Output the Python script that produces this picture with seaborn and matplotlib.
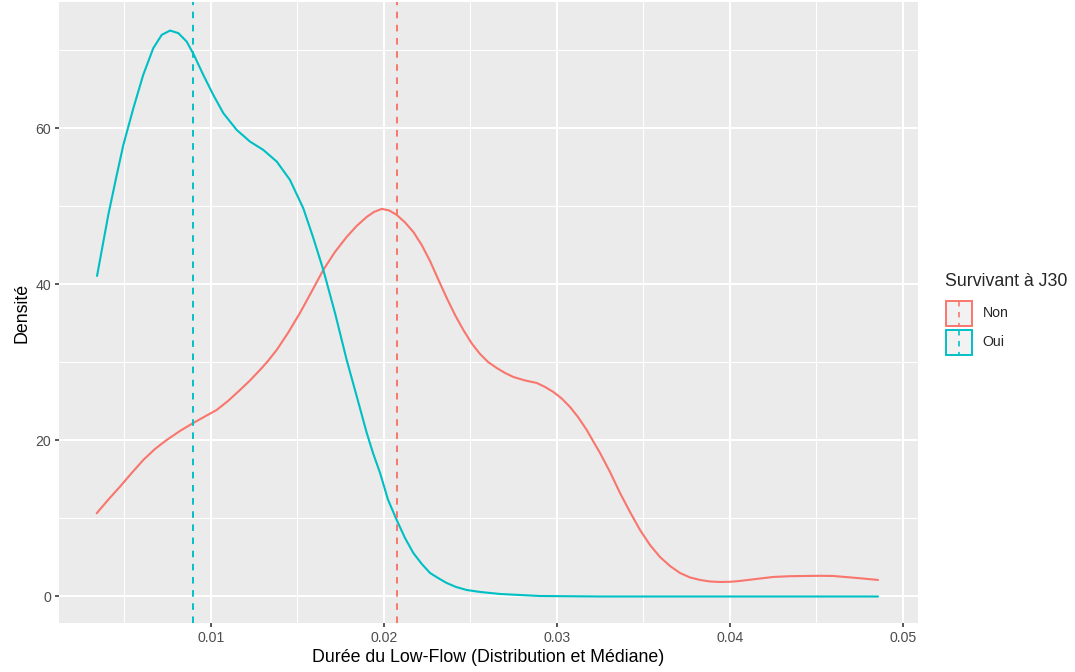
import matplotlib
matplotlib.use("Agg")
import matplotlib.pyplot as plt
import seaborn as sns
import pandas as pd
from matplotlib.legend_handler import HandlerBase
from matplotlib.patches import Rectangle
from matplotlib.lines import Line2D
from matplotlib.ticker import FixedLocator

# ---------------- data ----------------
groups = ["Non", "Oui"]
colors = ["#F8766D", "#00BFC4"]
medians = [0.02075, 0.00898]

x_non = [0.003410, 0.004064, 0.004757, 0.005434, 0.006104, 0.006780, 0.007457, 0.008225,
         0.008994, 0.009671, 0.010347, 0.011000, 0.011694, 0.012272, 0.012850, 0.013312,
         0.013815, 0.014468, 0.015162, 0.015838, 0.016509, 0.017185, 0.017861, 0.018439,
         0.019017, 0.019439, 0.019884, 0.020306, 0.020751, 0.021231, 0.021711, 0.022197,
         0.022676, 0.023139, 0.023642, 0.024121, 0.024601, 0.025087, 0.025566, 0.026029,
         0.026532, 0.027012, 0.027491, 0.028168, 0.028844, 0.029324, 0.029803, 0.030289,
         0.030769, 0.031231, 0.031734, 0.032098, 0.032503, 0.033081, 0.033659, 0.034237,
         0.034815, 0.035393, 0.035971, 0.036549, 0.037127, 0.037705, 0.038283, 0.038861,
         0.039439, 0.040017, 0.040595, 0.041520, 0.042503, 0.043486, 0.044468, 0.045220,
         0.045971, 0.046665, 0.047358, 0.047994, 0.048572]
y_non = [10.67, 12.37, 14.08, 15.83, 17.50, 18.91, 20.06, 21.22,
         22.24, 23.08, 23.91, 25.06, 26.47, 27.69, 29.04, 30.19,
         31.60, 33.78, 36.35, 39.10, 41.86, 44.17, 46.09, 47.50,
         48.65, 49.29, 49.68, 49.49, 48.91, 47.95, 46.73, 45.06,
         43.01, 40.71, 38.27, 36.09, 34.17, 32.44, 31.09, 30.06,
         29.29, 28.65, 28.14, 27.69, 27.37, 26.86, 26.22, 25.38,
         24.29, 23.01, 21.35, 19.94, 18.40, 15.96, 13.27, 10.83,
         8.53, 6.60, 5.06, 3.91, 3.01, 2.44, 2.12, 1.92,
         1.86, 1.88, 1.99, 2.24, 2.50, 2.60, 2.63, 2.65,
         2.63, 2.50, 2.37, 2.24, 2.12]

x_oui = [0.00343, 0.00408, 0.00457, 0.00495, 0.00553, 0.00610, 0.00668, 0.00717,
         0.00765, 0.00813, 0.00861, 0.00903, 0.00957, 0.01015, 0.01073, 0.01150,
         0.01227, 0.01304, 0.01382, 0.01458, 0.01535, 0.01591, 0.01651, 0.01719,
         0.01786, 0.01846, 0.01902, 0.01938, 0.01979, 0.02025, 0.02075, 0.02123,
         0.02171, 0.02220, 0.02268, 0.02314, 0.02364, 0.02418, 0.02480, 0.02557,
         0.02672, 0.02903, 0.03250, 0.03828, 0.04406, 0.04857]
y_oui = [41.09, 48.91, 54.04, 57.88, 62.59, 66.86, 70.28, 71.99,
         72.54, 72.21, 71.13, 69.42, 66.86, 64.29, 61.95, 59.81,
         58.31, 57.24, 55.74, 53.40, 49.77, 46.10, 41.86, 36.30,
         30.32, 25.50, 20.96, 18.40, 15.83, 12.40, 9.81, 7.50,
         5.58, 4.17, 3.01, 2.37, 1.73, 1.22, 0.83, 0.58,
         0.32, 0.06, 0.0, 0.0, 0.0, 0.0]

x_ticks = [0.01, 0.02, 0.03, 0.04, 0.05]
x_tick_labels = ["0.01", "0.02", "0.03", "0.04", "0.05"]
x_minor = [0.005, 0.015, 0.025, 0.035, 0.045]
y_ticks = [0, 20, 40, 60]
y_tick_labels = ["0", "20", "40", "60"]
y_minor = [10, 30, 50, 70]

x_title = "Durée du Low-Flow (Distribution et Médiane)"
y_title = "Densité"
legend_title = "Survivant à J30"

# ---------------- style ----------------
DPI = 116
W, H = 1075, 672
sns.set_theme(style="darkgrid", rc={
    "axes.facecolor": "#EBEBEB",
    "figure.facecolor": "white",
    "grid.color": "white",
})
plt.rcParams["font.family"] = ["Liberation Sans", "DejaVu Sans"]

fig = plt.figure(figsize=(W / DPI, H / DPI), dpi=DPI)
ax = fig.add_axes([59 / W, 1 - 623 / H, (918 - 59) / W, (623 - 2) / H])

frames = []
for g, xs, ys in [("Non", x_non, y_non), ("Oui", x_oui, y_oui)]:
    frames.append(pd.DataFrame({"x": xs, "y": ys, "g": g}))
df = pd.concat(frames, ignore_index=True)

palette = dict(zip(groups, colors))
sns.lineplot(data=df, x="x", y="y", hue="g", hue_order=groups, palette=palette,
             estimator=None, sort=True, linewidth=1.3, legend=False, ax=ax)
for ln in ax.lines:
    ln.set_solid_joinstyle("round")

dash = (0, (3.4, 3.4))
for m, c in zip(medians, colors):
    ax.axvline(m, color=c, linestyle=dash, linewidth=1.2)

ax.set_xlim(0.001231, 0.050885)
ax.set_ylim(-3.4, 76.2)
ax.set_xticks(x_ticks, x_tick_labels)
ax.set_yticks(y_ticks, y_tick_labels)
ax.xaxis.set_minor_locator(FixedLocator(x_minor))
ax.yaxis.set_minor_locator(FixedLocator(y_minor))
ax.set_axisbelow(True)
ax.grid(which="major", color="white", linewidth=1.3)
ax.grid(which="minor", color="white", linewidth=0.65)
ax.tick_params(which="minor", length=0)
ax.tick_params(which="major", length=2.75, width=1.0, color="#333333",
               labelcolor="#4D4D4D", labelsize=8.8, pad=2.2,
               bottom=True, left=True)
for s in ax.spines.values():
    s.set_visible(False)

ax.set_xlabel(x_title, fontsize=11, color="black", labelpad=2.75)
ax.set_ylabel(y_title, fontsize=11, color="black", labelpad=2.75)


class KeyHandler(HandlerBase):
    def create_artists(self, legend, orig_handle, xdescent, ydescent,
                       width, height, fontsize, trans):
        c = orig_handle.get_color()
        x0, y0 = -xdescent, -ydescent
        rect = Rectangle((x0 + 0.6, y0 + 0.6), width - 1.2, height - 1.2,
                         facecolor="#F2F2F2", edgecolor=c, linewidth=1.2,
                         transform=trans)
        ln = Line2D([x0 + width / 2] * 2, [y0 + height - 1, y0 + 1],
                    color=c, linestyle=dash, linewidth=1.0, transform=trans)
        return [rect, ln]


handles = [Line2D([], [], color=c) for c in colors]
leg = fig.legend(handles=handles, labels=groups, title=legend_title,
                 handler_map={Line2D: KeyHandler()},
                 loc="upper left", bbox_to_anchor=(945 / W, 1 - 273 / H),
                 frameon=False, borderpad=0, borderaxespad=0,
                 handlelength=1.97, handleheight=2.55, handletextpad=0.7,
                 labelspacing=0.14, fontsize=8.8, title_fontsize=11,
                 alignment="left")
leg._legend_box.sep = 6

fig.savefig("out.png", dpi=DPI)
